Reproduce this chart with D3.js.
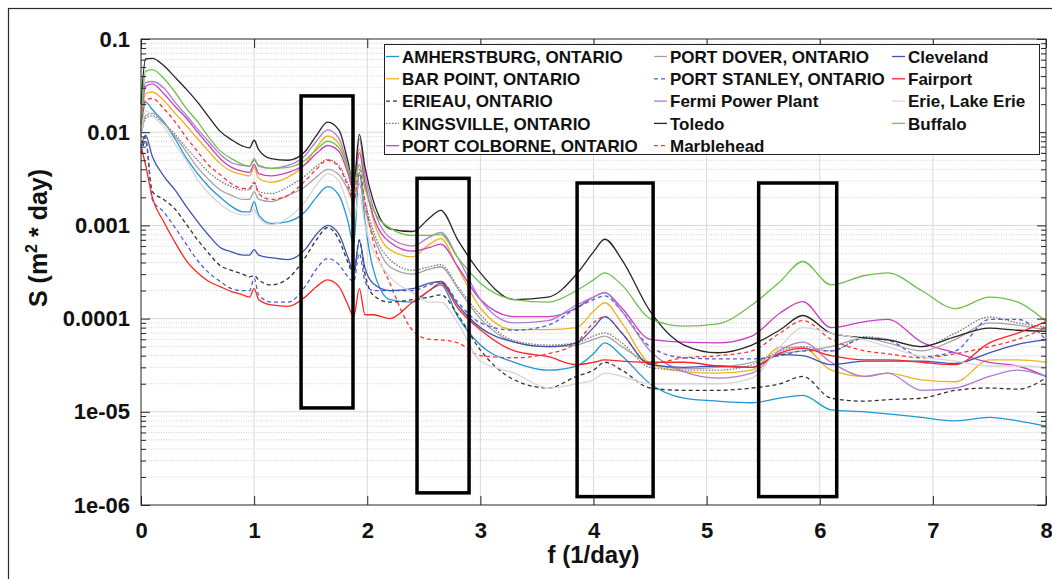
<!DOCTYPE html>
<html>
<head>
<meta charset="utf-8">
<script src="https://cdn.jsdelivr.net/npm/d3@7"></script>
<style>
  body { margin: 0; background: #fff; }
  text { font-family: "Liberation Sans", Arial, sans-serif; font-weight: bold; fill: #111; }
</style>
</head>
<body>
<svg id="chart" width="1052" height="579"></svg>
<script>
// Frequency grid (1/day)
const freq = [0, 0.04, 0.1, 0.2, 0.3, 0.4, 0.5, 0.6, 0.7, 0.8,
  0.9, 0.96, 1.0, 1.04, 1.15, 1.3, 1.45, 1.55, 1.65, 1.75,
  1.83, 1.88, 1.93, 1.98, 2.05, 2.2, 2.4, 2.55, 2.65, 2.8,
  3.0, 3.3, 3.6, 3.85, 4.0, 4.1, 4.25, 4.5, 4.8, 5.1,
  5.4, 5.65, 5.85, 6.1, 6.4, 6.6, 6.9, 7.2, 7.5, 7.75, 8.0];

// Spectral density S (m^2 * day) for each station
const amherstburg = [0.01, 0.021, 0.0175, 0.013, 0.0085, 0.0053, 0.0036, 0.0026, 0.002, 0.0016,
  0.0014, 0.0014, 0.0018, 0.0013, 0.00105, 0.0011, 0.0014, 0.002, 0.0026, 0.0021,
  0.0011, 0.00062, 0.0037, 0.0011, 0.00035, 0.00016, 0.00015, 0.0002, 0.00023, 0.000105,
  5.2e-5, 3.4e-5, 2.8e-5, 3.1e-5, 4.2e-5, 5.5e-5, 4e-5, 2e-5, 1.4e-5, 1.3e-5,
  1.25e-5, 1.4e-5, 1.5e-5, 1.05e-5, 1e-5, 9.5e-6, 8.7e-6, 8e-6, 8.7e-6, 8e-6, 7e-6];
const barPoint = [0.011, 0.026, 0.027, 0.022, 0.016, 0.0118, 0.0085, 0.0062, 0.0046, 0.0038,
  0.0035, 0.0034, 0.0042, 0.0032, 0.0029, 0.0033, 0.0045, 0.0068, 0.0091, 0.0075,
  0.0038, 0.0023, 0.0066, 0.003, 0.0012, 0.00055, 0.00046, 0.00063, 0.00072, 0.00035,
  0.00013, 7.6e-5, 7.6e-5, 8e-5, 0.00012, 0.000148, 9e-5, 3.3e-5, 2.7e-5, 2.6e-5,
  2.8e-5, 4.9e-5, 4.9e-5, 2.8e-5, 2.4e-5, 2.6e-5, 2.2e-5, 2.1e-5, 3.6e-5, 3.6e-5, 3.4e-5];
const erieau = [0.006, 0.008, 0.0023, 0.0019, 0.0015, 0.00103, 0.0007, 0.0005, 0.00037, 0.00033,
  0.0003, 0.00028, 0.00029, 0.00026, 0.00023, 0.00027, 0.00045, 0.0007, 0.00095, 0.0007,
  0.0004, 0.0003, 0.0007, 0.0003, 0.00018, 0.00015, 0.00016, 0.00017, 0.00018, 0.00011,
  4.6e-5, 2.2e-5, 1.8e-5, 2.4e-5, 2.8e-5, 3.4e-5, 2.8e-5, 1.8e-5, 1.7e-5, 1.7e-5,
  1.8e-5, 2e-5, 2.4e-5, 1.4e-5, 1.3e-5, 1.35e-5, 1.4e-5, 1.7e-5, 1.8e-5, 1.75e-5, 2.3e-5];
const kingsville = [0.009, 0.014, 0.015, 0.0125, 0.0095, 0.0068, 0.005, 0.0037, 0.003, 0.0026,
  0.0024, 0.0024, 0.0029, 0.0023, 0.0022, 0.0026, 0.0034, 0.0043, 0.0051, 0.0044,
  0.0028, 0.002, 0.0035, 0.0018, 0.0009, 0.00043, 0.00033, 0.00036, 0.00038, 0.00022,
  0.00011, 5.8e-5, 5.2e-5, 5.5e-5, 6.5e-5, 7e-5, 5.5e-5, 3e-5, 2.8e-5, 2.8e-5,
  3.2e-5, 4.5e-5, 5e-5, 4.5e-5, 6.4e-5, 6e-5, 5e-5, 7e-5, 0.000104, 9e-5, 8.1e-5];
const portColborne = [0.012, 0.031, 0.033, 0.026, 0.019, 0.0142, 0.01, 0.0072, 0.0052, 0.0042,
  0.0038, 0.0037, 0.0045, 0.0036, 0.0034, 0.0037, 0.0045, 0.0059, 0.0072, 0.0062,
  0.0036, 0.0024, 0.006, 0.0028, 0.0013, 0.00066, 0.00053, 0.00058, 0.00063, 0.00036,
  0.00016, 0.000105, 0.000105, 0.00013, 0.00017, 0.00019, 0.00013, 6e-5, 5.6e-5, 5.5e-5,
  6.5e-5, 0.000115, 0.000152, 8e-5, 9.3e-5, 9.8e-5, 5.6e-5, 4.3e-5, 3.4e-5, 3.1e-5, 2.4e-5];
const portDover = [0.009, 0.015, 0.016, 0.0125, 0.009, 0.0062, 0.0042, 0.0031, 0.0024, 0.0021,
  0.0019, 0.0019, 0.0023, 0.0019, 0.0018, 0.0021, 0.0026, 0.0033, 0.004, 0.0035,
  0.0024, 0.0018, 0.0028, 0.0015, 0.0008, 0.00036, 0.0003, 0.00034, 0.00036, 0.00021,
  0.0001, 5.6e-5, 5e-5, 5.2e-5, 6e-5, 6.5e-5, 5e-5, 3.3e-5, 2.9e-5, 3e-5,
  3.4e-5, 4.2e-5, 4.5e-5, 5e-5, 6.2e-5, 5.5e-5, 4.5e-5, 6e-5, 9e-5, 8.5e-5, 7.5e-5];
const portStanley = [0.006, 0.0088, 0.0019, 0.0014, 0.00095, 0.00063, 0.00042, 0.00031, 0.00025, 0.00021,
  0.0002, 0.0002, 0.00027, 0.00018, 0.00015, 0.00015, 0.00022, 0.00034, 0.00044, 0.00038,
  0.00028, 0.00025, 0.0005, 0.00025, 0.0002, 0.0002, 0.0002, 0.00023, 0.00025, 0.00015,
  9e-5, 7.5e-5, 8.5e-5, 0.00013, 0.00016, 0.000175, 0.00012, 5e-5, 3.8e-5, 3.7e-5,
  3.7e-5, 4e-5, 4.5e-5, 4.5e-5, 6.2e-5, 5.9e-5, 3.9e-5, 4.5e-5, 9.8e-5, 9.8e-5, 5.9e-5];
const fermi = [0.013, 0.034, 0.035, 0.03, 0.021, 0.0152, 0.0108, 0.0079, 0.0058, 0.0047,
  0.0044, 0.0043, 0.005, 0.0044, 0.0041, 0.0044, 0.0056, 0.008, 0.0106, 0.0086,
  0.0042, 0.0026, 0.0085, 0.0035, 0.0016, 0.00074, 0.0006, 0.00075, 0.00084, 0.00045,
  0.00016, 9e-5, 9.5e-5, 0.00014, 0.00017, 0.00019, 0.00012, 4.5e-5, 2.7e-5, 2.3e-5,
  2.6e-5, 4.6e-5, 5.6e-5, 3.4e-5, 2.4e-5, 2.6e-5, 1.7e-5, 1.8e-5, 2.4e-5, 2.8e-5, 2.4e-5];
const toledo = [0.02, 0.061, 0.062, 0.052, 0.039, 0.029, 0.021, 0.0145, 0.0102, 0.0083,
  0.0071, 0.0068, 0.0082, 0.0065, 0.0052, 0.005, 0.0062, 0.0092, 0.0128, 0.0105,
  0.0048, 0.0027, 0.0095, 0.0042, 0.0019, 0.00092, 0.00086, 0.0012, 0.00145, 0.0007,
  0.00031, 0.00016, 0.00017, 0.0003, 0.00052, 0.00071, 0.00043, 0.00012, 5.2e-5, 4.3e-5,
  5.2e-5, 7.6e-5, 0.000108, 7e-5, 6.2e-5, 5.9e-5, 5e-5, 6.4e-5, 7.9e-5, 7.5e-5, 7.3e-5];
const marblehead = [0.01, 0.022, 0.023, 0.018, 0.013, 0.0088, 0.0062, 0.0044, 0.0035, 0.0028,
  0.0025, 0.0025, 0.0029, 0.0022, 0.0019, 0.0021, 0.003, 0.004, 0.005, 0.0042,
  0.0026, 0.0018, 0.004, 0.0018, 0.0007, 0.00024, 7.5e-5, 6e-5, 5.9e-5, 5.5e-5,
  4e-5, 3.8e-5, 4.2e-5, 5.5e-5, 9e-5, 0.000105, 7e-5, 3.3e-5, 3.8e-5, 4e-5,
  4.5e-5, 7e-5, 9.5e-5, 6e-5, 4.5e-5, 4.2e-5, 3.8e-5, 4.2e-5, 5e-5, 6e-5, 8e-5];
const cleveland = [0.007, 0.0093, 0.0055, 0.0034, 0.0024, 0.0016, 0.0011, 0.00078, 0.00058, 0.00052,
  0.00048, 0.00048, 0.00055, 0.00048, 0.00045, 0.00043, 0.00055, 0.0008, 0.001, 0.0008,
  0.00045, 0.00032, 0.00068, 0.00035, 0.00024, 0.0002, 0.00021, 0.00024, 0.00025, 0.00014,
  8e-5, 5.6e-5, 5e-5, 5.5e-5, 8e-5, 0.000105, 7e-5, 3.2e-5, 3e-5, 3.1e-5,
  3e-5, 4.1e-5, 4e-5, 3.2e-5, 3.5e-5, 3.5e-5, 3.5e-5, 3.3e-5, 4.3e-5, 5.3e-5, 5.9e-5];
const fairport = [0.007, 0.0045, 0.002, 0.0011, 0.00066, 0.00042, 0.00031, 0.00025, 0.00022, 0.000195,
  0.00018, 0.00017, 0.00021, 0.00016, 0.00014, 0.000135, 0.00017, 0.00022, 0.00026, 0.00022,
  0.00014, 0.000105, 0.00021, 0.00011, 0.00011, 0.0001, 0.00015, 0.0002, 0.00024, 0.00013,
  7.6e-5, 4.5e-5, 3.9e-5, 3.2e-5, 3.4e-5, 3.6e-5, 3.5e-5, 3.4e-5, 3.4e-5, 3.1e-5,
  3e-5, 4.3e-5, 4.8e-5, 4e-5, 3.6e-5, 3.6e-5, 3.4e-5, 3.2e-5, 5.5e-5, 7e-5, 9.3e-5];
const erieLakeErie = [0.009, 0.017, 0.015, 0.0115, 0.0075, 0.005, 0.0031, 0.0022, 0.0017, 0.0014,
  0.0013, 0.0013, 0.0015, 0.0012, 0.00102, 0.0012, 0.0018, 0.0027, 0.0036, 0.003,
  0.0016, 0.0011, 0.0022, 0.001, 0.00055, 0.00028, 0.00019, 0.00015, 0.00015, 9e-5,
  3.5e-5, 2.6e-5, 1.8e-5, 2e-5, 2.2e-5, 2.6e-5, 2.4e-5, 2e-5, 2e-5, 2e-5,
  2.3e-5, 5e-5, 8e-5, 7e-5, 5.9e-5, 5e-5, 3.9e-5, 3.5e-5, 3.1e-5, 3.1e-5, 3e-5];
const buffalo = [0.012, 0.045, 0.047, 0.038, 0.027, 0.018, 0.013, 0.0088, 0.0063, 0.0052,
  0.0045, 0.0043, 0.0052, 0.0043, 0.0041, 0.0042, 0.005, 0.0065, 0.008, 0.0068,
  0.0042, 0.0028, 0.0045, 0.0025, 0.0015, 0.00094, 0.00078, 0.00078, 0.0008, 0.00045,
  0.00024, 0.00016, 0.00015, 0.0002, 0.00026, 0.00031, 0.00023, 0.0001, 8.3e-5, 8.8e-5,
  0.00014, 0.00025, 0.00041, 0.00023, 0.00029, 0.00031, 0.0002, 0.000128, 0.00017, 0.00015, 9.3e-5];

// Station names in legend order and their series
const stationNames = ["AMHERSTBURG, ONTARIO", "BAR POINT, ONTARIO", "ERIEAU, ONTARIO",
  "KINGSVILLE, ONTARIO", "PORT COLBORNE, ONTARIO", "PORT DOVER, ONTARIO",
  "PORT STANLEY, ONTARIO", "Fermi Power Plant", "Toledo", "Marblehead",
  "Cleveland", "Fairport", "Erie, Lake Erie", "Buffalo"];
const stationSeries = [amherstburg, barPoint, erieau, kingsville, portColborne, portDover,
  portStanley, fermi, toledo, marblehead, cleveland, fairport, erieLakeErie, buffalo];

// Highlighted frequency bands: [f start, f end, S top, S bottom]
const bands = [[1.415, 1.874, 0.0245, 1.1e-5], [2.44, 2.90, 0.0032, 1.35e-6],
  [3.855, 4.527, 0.00285, 1.23e-6], [5.46, 6.15, 0.00285, 1.23e-6]];

// Axis ticks
const xTicks = [0, 1, 2, 3, 4, 5, 6, 7, 8];
const yTicks = [1e-6, 1e-5, 1e-4, 1e-3, 1e-2, 1e-1];
const yTickLabels = ["1e-06", "1e-05", "0.0001", "0.001", "0.01", "0.1"];

// Line styles (separate from data)
const styles = [
  { color: "#2196d8", dash: null },
  { color: "#efb320", dash: null },
  { color: "#333333", dash: "4,3" },
  { color: "#7c7c7c", dash: "1.6,1.4" },
  { color: "#c93fc4", dash: null },
  { color: "#a3a3a3", dash: null },
  { color: "#4a5fd4", dash: "4,3" },
  { color: "#b07ad2", dash: null },
  { color: "#262626", dash: null },
  { color: "#ff3535", dash: "4,3" },
  { color: "#3f54b3", dash: null },
  { color: "#ff2424", dash: null },
  { color: "#d6d6d6", dash: null },
  { color: "#6cc24a", dash: null }
];

const svg = d3.select("#chart");
const L = 141, R = 1046, T = 39, B = 505;
const x = d3.scaleLinear().domain([0, 8]).range([L, R]);
const y = d3.scaleLog().domain([1e-6, 0.1]).range([B, T]);

// Figure frame
svg.append("rect").attr("x", 8.5).attr("y", 8.5).attr("width", 1100).attr("height", 700)
  .attr("fill", "none").attr("stroke", "#2a2a2a").attr("stroke-width", 1.2);

// Grid
const grid = svg.append("g");
const minorVals = [];
for (let k = -6; k < -1; k++) for (let m = 2; m <= 9; m++) minorVals.push(m * Math.pow(10, k));
grid.selectAll(".ymin").data(minorVals).join("line")
  .attr("x1", L).attr("x2", R).attr("y1", d => y(d)).attr("y2", d => y(d))
  .attr("stroke", "#c8c8c8").attr("stroke-width", 0.8).attr("stroke-dasharray", "1,1.5");
grid.selectAll(".ymaj").data(yTicks.slice(1, -1)).join("line")
  .attr("x1", L).attr("x2", R).attr("y1", d => y(d)).attr("y2", d => y(d))
  .attr("stroke", "#d9d9d9").attr("stroke-width", 1);
grid.selectAll(".xmaj").data(xTicks.slice(1, -1)).join("line")
  .attr("x1", d => x(d)).attr("x2", d => x(d)).attr("y1", T).attr("y2", B)
  .attr("stroke", "#d9d9d9").attr("stroke-width", 1);

// Series
const line = d3.line().x(d => x(d[0])).y(d => y(d[1])).curve(d3.curveMonotoneX);
const plot = svg.append("g");
stationSeries.forEach((vals, i) => {
  plot.append("path")
    .datum(freq.map((f, j) => [f, vals[j]]))
    .attr("d", line)
    .attr("fill", "none")
    .attr("stroke", styles[i].color)
    .attr("stroke-width", 1.3)
    .attr("stroke-dasharray", styles[i].dash);
});

// Highlight boxes
svg.append("g").selectAll("rect").data(bands).join("rect")
  .attr("x", d => x(d[0])).attr("y", d => y(d[2]))
  .attr("width", d => x(d[1]) - x(d[0])).attr("height", d => y(d[3]) - y(d[2]))
  .attr("fill", "none").attr("stroke", "#000").attr("stroke-width", 3.5);

// Axes (ticks inside the box)
const axB = svg.append("g").attr("transform", `translate(0,${B})`)
  .call(d3.axisBottom(x).tickValues(xTicks).tickSize(-9).tickSizeOuter(0).tickPadding(17).tickFormat(d3.format("d")));
const axT = svg.append("g").attr("transform", `translate(0,${T})`)
  .call(d3.axisTop(x).tickValues(xTicks).tickSize(-9).tickSizeOuter(0).tickFormat(""));
const axL = svg.append("g").attr("transform", `translate(${L},0)`)
  .call(d3.axisLeft(y).tickValues(yTicks).tickSize(-9).tickSizeOuter(0).tickPadding(11)
    .tickFormat((d, i) => yTickLabels[i]));
const axLm = svg.append("g").attr("transform", `translate(${L},0)`)
  .call(d3.axisLeft(y).tickValues(minorVals).tickSize(-5).tickSizeOuter(0).tickFormat(""));
const axR = svg.append("g").attr("transform", `translate(${R},0)`)
  .call(d3.axisRight(y).tickValues(yTicks).tickSize(-9).tickSizeOuter(0).tickFormat(""));
const axRm = svg.append("g").attr("transform", `translate(${R},0)`)
  .call(d3.axisRight(y).tickValues(minorVals).tickSize(-5).tickSizeOuter(0).tickFormat(""));
[axB, axT, axL, axLm, axR, axRm].forEach(g => {
  g.select(".domain").remove();
  g.selectAll("line").attr("stroke", "#262626");
  g.selectAll("text").attr("font-size", 22).attr("fill", "#111")
    .attr("font-family", "'Liberation Sans', Arial, sans-serif").attr("font-weight", "bold");
});
svg.append("rect").attr("x", L).attr("y", T).attr("width", R - L).attr("height", B - T)
  .attr("fill", "none").attr("stroke", "#262626").attr("stroke-width", 1);

// Axis titles
svg.append("text").attr("x", (L + R) / 2).attr("y", 563).attr("text-anchor", "middle")
  .attr("font-size", 24).text("f (1/day)");
const yl = svg.append("text").attr("transform", "translate(47,238) rotate(-90)")
  .attr("text-anchor", "middle").attr("font-size", 25);
yl.append("tspan").text("S (m");
yl.append("tspan").attr("dy", -10).attr("font-size", 16).text("2");
yl.append("tspan").attr("dy", 10).text(" * day)");

// Legend
const lg = svg.append("g");
lg.append("rect").attr("x", 384.5).attr("y", 44.5).attr("width", 655).attr("height", 110)
  .attr("fill", "#fff").attr("stroke", "#222").attr("stroke-width", 1);
const colX = [386, 654, 892];
stationNames.forEach((name, i) => {
  const col = Math.floor(i / 5), row = i % 5;
  const cx = colX[col], cy = 56.5 + row * 22.3;
  lg.append("line").attr("x1", cx).attr("x2", cx + 13).attr("y1", cy).attr("y2", cy)
    .attr("stroke", styles[i].color).attr("stroke-width", 1.3)
    .attr("stroke-dasharray", styles[i].dash);
  lg.append("text").attr("x", cx + 16).attr("y", cy).attr("dy", "0.36em")
    .attr("font-size", 17).text(name);
});
</script>
</body>
</html>
